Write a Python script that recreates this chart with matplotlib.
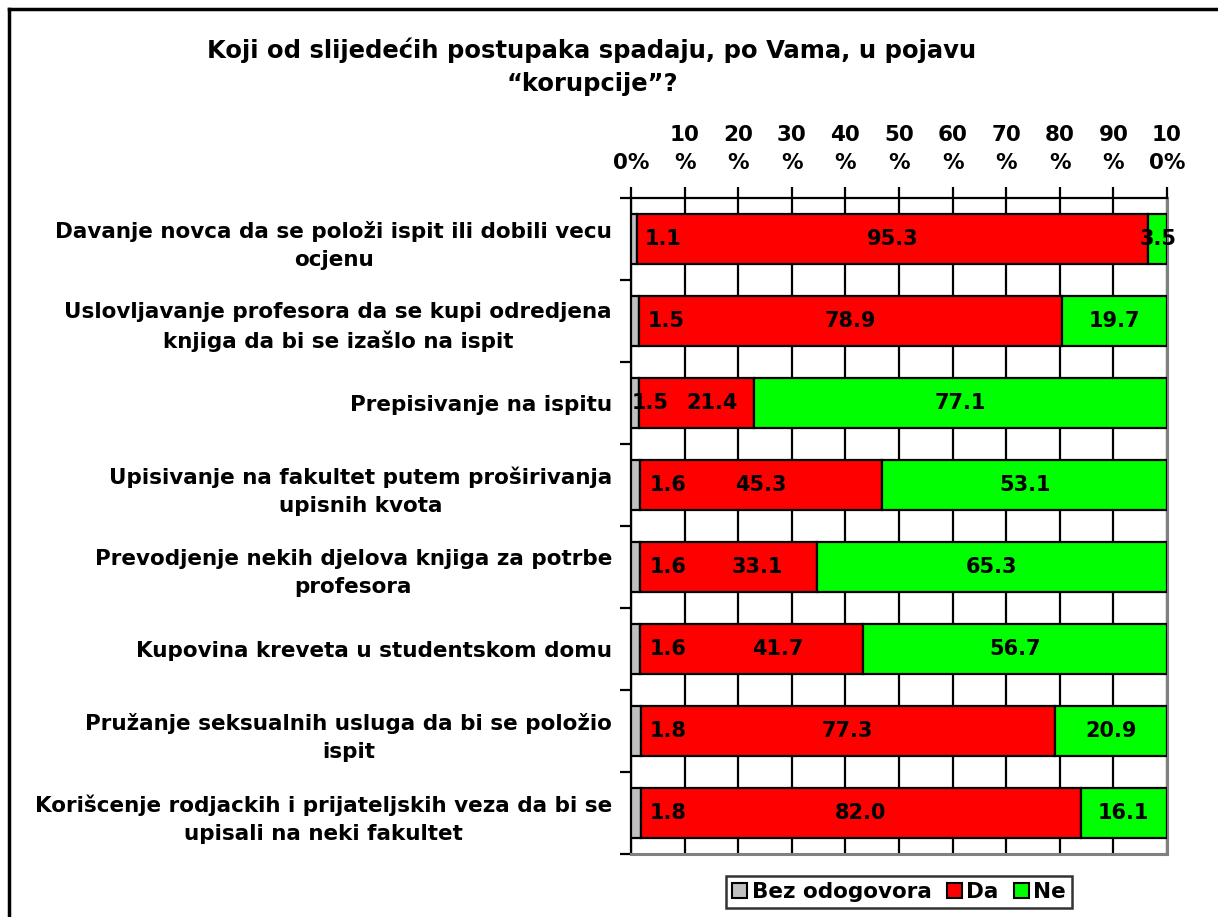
import matplotlib
matplotlib.use("Agg")
import matplotlib.pyplot as plt
import numpy as np
from matplotlib.patches import Patch
from matplotlib.lines import Line2D

plt.rcParams['font.family'] = ['DejaVu Sans']

title = "Koji od slijedećih postupaka spadaju, po Vama, u pojavu\n\u201ckorupcije\u201d?"
categories = [
    "Davanje novca da se položi ispit ili dobili vecu\nocjenu",
    "Uslovljavanje profesora da se kupi odredjena\nknjiga da bi se izašlo na ispit",
    "Prepisivanje na ispitu",
    "Upisivanje na fakultet putem proširivanja\nupisnih kvota",
    "Prevodjenje nekih djelova knjiga za potrbe\nprofesora",
    "Kupovina kreveta u studentskom domu",
    "Pružanje seksualnih usluga da bi se položio\nispit",
    "Korišcenje rodjackih i prijateljskih veza da bi se\nupisali na neki fakultet",
]
series_names = ["Bez odogovora", "Da", "Ne"]
bez = [1.1, 1.5, 1.5, 1.6, 1.6, 1.6, 1.8, 1.8]
da = [95.3, 78.9, 21.4, 45.3, 33.1, 41.7, 77.3, 82.0]
ne = [3.5, 19.7, 77.1, 53.1, 65.3, 56.7, 20.9, 16.1]
xtick_labels = ["0%", "10\n%", "20\n%", "30\n%", "40\n%", "50\n%", "60\n%",
                "70\n%", "80\n%", "90\n%", "10\n0%"]

# label placement tweaks (percentage units), mimicking the original layout
bez_label_x = [6.0, 6.5, 3.6, 6.9, 6.9, 6.9, 6.9, 6.9]
da_label_shift = [0, 0, 2.9, 0, 5.4, 5.0, 0, 0]

colors = ["#C0C0C0", "#FF0000", "#00FF00"]

W, H = 1218, 917
fig = plt.figure(figsize=(W / 100, H / 100), dpi=100)
ax = fig.add_axes([631 / W, 1 - 854 / H, (1167 - 631) / W, (854 - 198) / H])

vals = np.array([bez, da, ne], dtype=float)
tot = vals.sum(axis=0)
pct = vals / tot * 100
y = np.arange(len(categories))
left = np.zeros(len(categories))
bar_h = 0.6
for i in range(3):
    ax.barh(y, pct[i], left=left, height=bar_h, color=colors[i],
            edgecolor="black", linewidth=1.6, label=series_names[i], zorder=3)
    left = left + pct[i]

lab_font = dict(fontsize=15, fontweight="bold", ha="center", va="center", zorder=5)
for j in range(len(categories)):
    ax.text(bez_label_x[j], y[j], f"{bez[j]:.1f}", **lab_font)
    cda = pct[0, j] + pct[1, j] / 2 + da_label_shift[j]
    ax.text(cda, y[j], f"{da[j]:.1f}", **lab_font)
    cne = pct[0, j] + pct[1, j] + pct[2, j] / 2
    ax.text(cne, y[j], f"{ne[j]:.1f}", **lab_font)

ax.set_xlim(0, 100)
ax.set_ylim(len(categories) - 0.5, -0.5)
ax.xaxis.tick_top()
ax.set_xticks(np.arange(0, 101, 10))
ax.set_xticklabels(xtick_labels, fontsize=15.5, fontweight="bold", linespacing=1.5)
ax.tick_params(axis="x", direction="out", length=8, width=1.6, pad=10, bottom=False)
ax.set_yticks(y)
ax.set_yticklabels(categories, fontsize=15.5, fontweight="bold", ha="center",
                   multialignment="center", linespacing=1.5)
ax.set_yticks(np.arange(-0.5, len(categories)), minor=True)
ax.tick_params(axis="y", which="major", length=0, pad=0)
ax.tick_params(axis="y", which="minor", direction="out", length=8, width=1.6)
# shift center-aligned labels so their blocks end near the axis
fig.canvas.draw()
renderer = fig.canvas.get_renderer()
for t in ax.get_yticklabels():
    bb = t.get_window_extent(renderer)
    w = bb.width
    t.set_x(-(w / 2 + 19) / (1167 - 631))
    t.set_transform(ax.get_yaxis_transform())

ax.grid(axis="x", color="black", linewidth=1.6, zorder=0)
ax.set_axisbelow(True)
for s in ["top", "left"]:
    ax.spines[s].set_color("black")
    ax.spines[s].set_linewidth(1.6)
for s in ["right", "bottom"]:
    ax.spines[s].set_color("#808080")
    ax.spines[s].set_linewidth(2.2)

fig.text(592 / W, 1 - 67 / H, title, ha="center", va="center", fontsize=17.5,
         fontweight="bold", linespacing=1.5)

handles = [Patch(facecolor=c, edgecolor="black", linewidth=1.5) for c in colors]
leg = fig.legend(handles, series_names, loc="center", bbox_to_anchor=(899 / W, 1 - 892 / H),
                 ncol=3, frameon=True, fancybox=False, prop=dict(size=15.5, weight="bold"),
                 handlelength=0.7, handleheight=0.7, handletextpad=0.2, columnspacing=0.7,
                 borderpad=0.3, borderaxespad=0)
leg.get_frame().set_edgecolor("black")
leg.get_frame().set_linewidth(1.8)

# page border (top and left edges visible)
fig.add_artist(Line2D([9 / W, 1.0], [1 - 9 / H, 1 - 9 / H], transform=fig.transFigure,
                      color="black", linewidth=2.5))
fig.add_artist(Line2D([9 / W, 9 / W], [1 - 9 / H, 0.0], transform=fig.transFigure,
                      color="black", linewidth=2.5))

fig.savefig("out.png", dpi=100)
